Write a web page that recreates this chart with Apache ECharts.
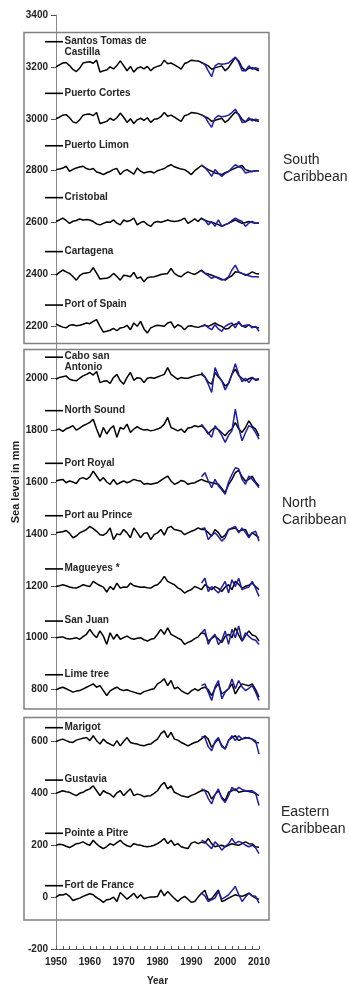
<!DOCTYPE html>
<html>
<head>
<meta charset="utf-8">
<script src="https://cdn.jsdelivr.net/npm/echarts@6/dist/echarts.min.js"></script>
<style>
html,body{margin:0;padding:0;background:#fff;}
#c{width:349px;height:985px;}
</style>
</head>
<body>
<div id="c"></div>
<script>
// ---------------- DATA ----------------
const years = [1950,1951,1952,1953,1954,1955,1956,1957,1958,1959,
  1960,1961,1962,1963,1964,1965,1966,1967,1968,1969,
  1970,1971,1972,1973,1974,1975,1976,1977,1978,1979,
  1980,1981,1982,1983,1984,1985,1986,1987,1988,1989,
  1990,1991,1992,1993,1994,1995,1996,1997,1998,1999,
  2000,2001,2002,2003,2004,2005,2006,2007,2008,2009,2010];
const altYears = [1993,1994,1995,1996,1997,1998,1999,2000,2001,2002,2003,2004,2005,2006,2007,2008,2009,2010];

const stations = ['Santos Tomas de\nCastilla','Puerto Cortes','Puerto Limon','Cristobal','Cartagena','Port of Spain',
  'Cabo san\nAntonio','North Sound','Port Royal','Port au Prince','Magueyes *','San Juan','Lime tree',
  'Marigot','Gustavia','Pointe a Pitre','Fort de France'];
// vertical offset applied to each station's curve (mm)
const offsets = [3200,3000,2800,2600,2400,2200,2000,1800,1600,1400,1200,1000,800,600,400,200,0];
// level of each station's name marker (mm on the axis)
const labelLevels = [3297,3098,2896,2696,2488,2282,2081,1875,1672,1470,1265,1064,857,653,451,246,44];

const yTicks = [-200,0,200,400,600,800,1000,1200,1400,1600,1800,2000,2200,2400,2600,2800,3000,3200,3400];
const xTicks = [1950,1960,1970,1980,1990,2000,2010];

// black curves (anomalies, mm), 1950-2010
const santos = [0,8,15,17,5,-10,-18,-5,15,18, 20,14,26,-20,-15,-12,0,-8,5,23, 5,-15,2,-20,-5,0,-8,2,-15,-3,
  2,6,26,12,15,8,0,-9,13,18, 26,24,23,17,10,4,-9,-3,0,4, -15,-3,17,36,23,-3,-15,-5,-3,-9, -15];
const cortes = [0,6,14,16,4,-12,-16,-4,14,17, 18,12,24,-18,-14,-10,2,-6,4,22, 6,-14,0,-18,-4,2,-6,4,-14,-2,
  0,8,24,10,14,6,-2,-10,12,16, 24,22,20,15,8,2,-10,-6,-2,2, -14,-4,12,26,18,-2,-12,-4,-2,-8, -10];
const limon = [4,6,10,17,-3,5,10,14,17,8, 4,8,-5,-9,-15,-8,-3,5,8,-15, -2,4,-5,-13,10,-2,-9,-5,-3,-9,
  0,4,8,17,23,15,10,6,4,-5, -15,0,10,20,12,4,-2,-9,-12,-15, -8,-3,4,10,16,20,4,0,-3,0, 0];
const cristobal = [4,10,17,8,-3,5,8,14,10,12, 10,4,-5,-9,-3,2,1,10,-2,-9, 10,4,8,17,-9,0,4,-8,-15,0,
  4,1,5,10,6,4,6,10,17,-3, 5,14,4,17,8,4,0,-3,-8,-15, -8,-3,4,10,3,-3,0,4,0,-3, -2];
const cartagena = [-3,8,17,10,4,-8,-22,-5,4,6, 8,26,5,-18,-16,-15,-9,4,-8,-22, -3,-5,-9,8,-15,-10,-28,-13,-10,-9,
  -5,0,2,4,23,4,-5,-9,2,10, 4,0,8,17,5,2,-3,-8,-13,-18, -22,-12,-5,10,8,4,-3,2,10,4, 2];
const portOfSpain = [9,2,-3,-6,4,6,2,4,8,13, 10,19,26,0,-22,-19,-15,-8,-17,-6, -4,4,-13,13,0,19,-10,-26,-6,0,
  4,2,0,13,17,-6,6,0,-13,0, 2,-2,-4,0,4,0,6,13,5,0, -10,-8,4,8,13,2,-4,6,-2,-4, -5];
const cabo = [-4,3,6,9,-4,-8,-10,0,9,15, 22,12,26,-17,-12,-10,-20,3,15,-10, -23,3,22,-8,2,0,-17,0,3,0,
  5,10,15,41,15,5,-4,3,0,0, 5,9,12,15,5,-15,-23,22,5,-10, -30,-20,15,35,10,0,-10,-2,3,-8, -5];
const northSound = [0,4,-5,5,10,17,0,8,17,23, 30,42,4,-28,10,-15,5,17,-28,10, 4,23,-9,4,13,5,0,2,-3,0,
  4,10,23,49,10,4,-3,4,-9,8, 10,17,13,17,5,-15,0,10,2,-10, -22,-5,4,29,5,-9,10,36,15,4, -22];
const portRoyal = [4,8,10,-3,4,0,-6,12,17,10, 20,42,23,4,17,0,-9,10,-9,-2, 4,-3,2,10,6,4,-9,-6,-9,-6,
  -3,6,15,23,4,-9,-3,6,2,-9, -5,-3,4,10,4,0,-3,-6,-9,-25, -41,-10,10,36,45,20,4,10,23,0, -15];
const portAuPrince = [4,6,8,13,2,-15,-8,4,10,17, 29,20,10,-3,-5,4,23,-22,0,-3, 17,4,-15,23,5,-15,2,4,-22,-3,
  4,17,-5,23,29,17,14,10,-3,4, 10,15,23,17,17,5,-9,17,5,-15, -5,17,20,23,10,15,17,-9,4,-5, -15];
const magueyes = [-3,0,4,0,-5,-8,-9,-3,4,0, -3,17,8,1,-5,-24,-3,-15,10,-9, -5,-6,10,0,-3,-6,-5,-8,-9,0,
  4,17,36,17,10,4,-8,-15,-28,-20, -15,-3,-8,-15,4,-5,-15,-3,-10,-22, -5,4,-15,17,5,-9,-2,2,10,-3, -15];
const sanJuan = [0,2,3,-3,-5,-3,0,-6,4,13, 32,13,0,26,6,-26,19,-6,13,-6, 0,6,-2,-6,-2,0,-8,-13,-6,-3,
  13,32,13,38,13,6,-2,-8,-26,-18, -13,-4,3,19,15,-13,-3,6,-5,-19, 5,13,0,38,10,-13,8,26,10,6, -13];
const limeTree = [-1,5,9,3,-3,-10,-6,-4,2,9, 15,22,9,15,-4,-23,-5,3,9,0, -4,-1,-6,-10,-14,-17,-8,-4,0,3,
  22,30,41,15,35,3,9,-4,-12,-17, -5,3,-4,5,9,0,-23,5,22,-17, -8,3,22,-17,5,22,18,15,22,0, -29];
const marigot = [0,5,9,3,-2,-4,5,9,12,15, 3,22,3,-10,9,-4,-10,-17,3,-17, 0,15,-4,-8,-10,-15,-17,-12,-10,0,
  9,30,41,15,35,9,5,-4,-10,-17, -10,-4,0,10,22,9,-23,-5,9,-15, -29,5,15,22,3,10,15,12,9,-4, -5];
const gustavia = [0,5,10,6,4,-3,-9,0,4,12, 17,29,10,-9,10,2,-3,-15,2,10, -9,5,17,-9,-3,-6,-13,-10,-9,0,
  10,30,42,17,29,4,-2,-9,-12,-15, -8,-3,4,10,12,5,-22,-5,10,-15, -28,4,10,17,4,7,10,7,4,0, -9];
const pointeAPitre = [0,4,2,-4,-9,-2,6,8,13,5, 0,19,5,-6,-13,-5,6,0,10,19, 6,-2,-6,6,2,0,-4,-6,-4,0,
  6,15,26,6,19,0,6,-6,-10,-13, 8,13,6,12,8,26,6,-6,-2,0, -6,0,6,2,0,6,13,6,5,-6, -8];
const fortDeFrance = [0,9,8,13,3,-13,-8,-4,3,8, 13,9,-2,-10,-20,-10,-8,0,-17,18, 5,-8,3,15,-4,9,-6,-2,0,0,
  2,28,5,22,8,-5,-17,-5,3,-8, -20,-17,0,15,26,-10,-6,10,28,-17, -12,-4,3,9,5,3,8,15,5,-4, -8];

// blue curves (anomalies, mm), 1993-2010
const santosAlt = [17,10,-15,-38,4,13,10,12,15,26,38,17,-15,-15,4,-9,-3,-8];
const cortesAlt = [15,8,-14,-33,2,12,8,10,14,24,37,15,-14,-12,4,-8,-2,-6];
const limonAlt = [23,12,-3,-22,4,-10,-22,-10,-3,10,23,15,10,-9,-5,-3,0,0];
const cristobalAlt = [14,10,-9,4,-15,10,-15,-8,-3,8,17,10,4,-15,-2,4,-3,-2];
const cartagenaAlt = [14,4,-5,-15,-9,-15,-22,-18,-9,17,36,10,4,0,-5,-9,-9,-10];
const portOfSpainAlt = [0,6,-5,-13,6,-10,-19,0,8,13,-6,19,0,4,6,-6,0,-19];
const caboAlt = [22,5,-23,-55,41,10,-10,-45,-20,15,56,15,-13,0,-17,0,-4,-2];
const northSoundAlt = [23,5,-10,-28,17,0,-20,-47,-20,-3,81,10,-41,-10,17,10,-10,-35];
const portRoyalAlt = [20,36,5,-22,10,-15,-30,-47,0,29,55,50,10,-9,23,10,-5,-22];
const portAuPrinceAlt = [20,23,-22,-5,4,-10,-28,-15,15,23,29,4,23,5,-15,5,10,-28];
const magueyesAlt = [10,29,-22,-3,-15,-28,-5,17,-28,23,-3,29,-15,-9,-5,17,-10,-41];
const sanJuanAlt = [19,32,-26,0,13,-26,-10,26,-26,32,0,45,-13,19,5,-6,-10,-26];
const limeTreeAlt = [15,22,-10,-42,10,35,-36,-10,3,41,3,35,10,-4,5,15,-10,-42];
const marigotAlt = [18,15,-20,-36,0,15,-20,-29,3,22,3,22,9,12,15,8,3,-49];
const gustaviaAlt = [17,10,-20,-41,-5,17,-20,-35,-9,23,10,23,15,10,10,10,0,-47];
const pointeAPitreAlt = [19,13,0,-13,13,0,-19,-5,5,26,6,15,10,0,-6,0,-10,-32];
const fortDeFranceAlt = [15,5,-17,-10,-4,22,-8,0,9,25,41,10,-17,0,15,5,3,-23];

const blackSeries = [santos,cortes,limon,cristobal,cartagena,portOfSpain,cabo,northSound,portRoyal,portAuPrince,
  magueyes,sanJuan,limeTree,marigot,gustavia,pointeAPitre,fortDeFrance];
const blueSeries = [santosAlt,cortesAlt,limonAlt,cristobalAlt,cartagenaAlt,portOfSpainAlt,caboAlt,northSoundAlt,
  portRoyalAlt,portAuPrinceAlt,magueyesAlt,sanJuanAlt,limeTreeAlt,marigotAlt,gustaviaAlt,pointeAPitreAlt,fortDeFranceAlt];

const regions = ['South\nCaribbean','North\nCaribbean','Eastern\nCaribbean'];

// ---------------- CHART ----------------
const FONT = '"Liberation Sans", Arial, sans-serif';
const chart = echarts.init(document.getElementById('c'), null, {renderer:'canvas'});

const series = [];
blackSeries.forEach((arr, i) => {
  series.push({
    type:'line', name:stations[i]+' tg', silent:true, symbol:'none', z:2,
    lineStyle:{color:'#000', width:1.5},
    data: years.map((y,k)=>[y, offsets[i] + arr[k]])
  });
});
blueSeries.forEach((arr, i) => {
  series.push({
    type:'line', name:stations[i]+' alt', silent:true, symbol:'none', z:3,
    lineStyle:{color:'#1e1ea6', width:1.5},
    data: altYears.map((y,k)=>[y, offsets[i] + arr[k]])
  });
});
// station name markers
series.push({
  type:'custom', silent:true, clip:false, z:4,
  data: labelLevels.map(v => [xTicks[0], v]),
  encode:{x:0, y:1},
  renderItem:(params, api) => {
    const p = api.coord([api.value(0), api.value(1)]);
    const x0 = p[0]-11, x1 = p[0]+7;
    return {type:'group', children:[
      {type:'line', shape:{x1:x0, y1:p[1], x2:x1, y2:p[1]}, style:{stroke:'#000', lineWidth:1.6}},
      {type:'text', x:x1+1.5, y:p[1]-6,
        style:{text:stations[params.dataIndex], font:'bold 10px '+FONT, fill:'#262626',
          lineHeight:11, verticalAlign:'top', align:'left'}}
    ]};
  }
});

const option = {
  animation:false,
  backgroundColor:'#fff',
  grid:{left:56, right:90, top:15, bottom:36, containLabel:false, outerBoundsMode:'none'},
  xAxis:{
    type:'value', min:xTicks[0], max:xTicks[xTicks.length-1], interval:10,
    name:'Year', nameLocation:'middle', nameGap:27, nameMoveOverlap:false,
    nameTextStyle:{fontFamily:FONT, fontWeight:'bold', fontSize:10, color:'#222'},
    axisLine:{onZero:false, lineStyle:{color:'#555', width:1}},
    axisTick:{show:true, inside:true, length:3, lineStyle:{color:'#555'}},
    minorTick:{show:true, splitNumber:5, length:3, lineStyle:{color:'#555'}},
    axisLabel:{fontFamily:FONT, fontWeight:'bold', fontSize:10, color:'#222', margin:8, formatter:v=>String(v)},
    splitLine:{show:false}
  },
  yAxis:{
    type:'value', min:yTicks[0], max:yTicks[yTicks.length-1], interval:200,
    name:'Sea level in mm', nameLocation:'middle', nameGap:35, nameRotate:90, nameMoveOverlap:false,
    nameTextStyle:{fontFamily:FONT, fontWeight:'bold', fontSize:11, color:'#222'},
    axisLine:{show:true, onZero:false, lineStyle:{color:'#8a8a8a', width:1}},
    axisTick:{show:true, length:5, lineStyle:{color:'#555'}},
    axisLabel:{fontFamily:FONT, fontWeight:'bold', fontSize:10, color:'#222', margin:8, formatter:v=>String(v)},
    splitLine:{show:false}
  },
  graphic:[
    {type:'rect', shape:{x:24, y:32.5, width:245, height:311}, style:{fill:'none', stroke:'#808080', lineWidth:1.5}, z:1},
    {type:'rect', shape:{x:24, y:349.5, width:245, height:359.5}, style:{fill:'none', stroke:'#808080', lineWidth:1.5}, z:1},
    {type:'rect', shape:{x:24, y:717.5, width:245, height:202.5}, style:{fill:'none', stroke:'#808080', lineWidth:1.5}, z:1},
    {type:'text', left:283, top:152, style:{text:regions[0], font:'14px '+FONT, fill:'#262626', lineHeight:16.5}},
    {type:'text', left:282, top:495, style:{text:regions[1], font:'14px '+FONT, fill:'#262626', lineHeight:16.5}},
    {type:'text', left:281, top:804, style:{text:regions[2], font:'14px '+FONT, fill:'#262626', lineHeight:16.5}}
  ],
  series
};
chart.setOption(option);
</script>
</body>
</html>
